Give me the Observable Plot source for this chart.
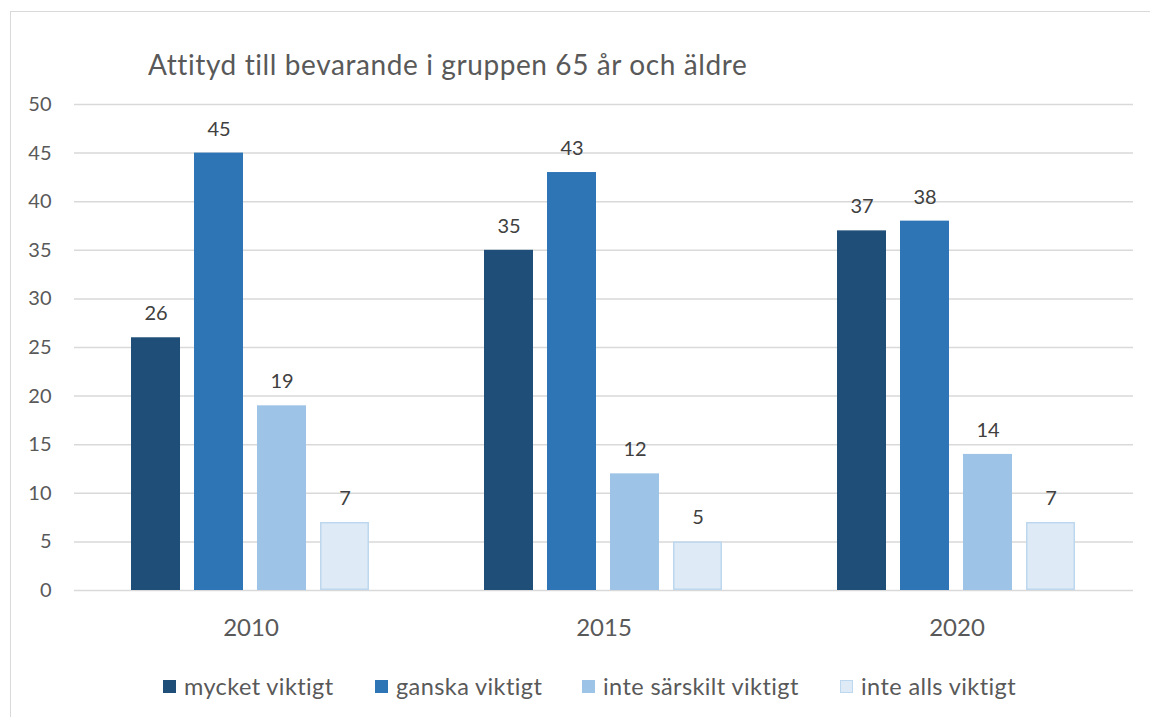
<!DOCTYPE html>
<html>
<head>
<meta charset="utf-8">
<script src="https://cdn.jsdelivr.net/npm/d3@7"></script>
<script src="https://cdn.jsdelivr.net/npm/@observablehq/plot@0.6"></script>
<style>
  body { margin: 0; background: #fff; font-family: Lato, "Noto Sans", sans-serif; }
  #wrap { position: relative; width: 1150px; height: 717px; overflow: hidden; }
  #frame { position: absolute; left: 10px; top: 11px; width: 1160px; height: 720px; border-left: 1.5px solid #D9D9D9; border-top: 1.5px solid #D9D9D9; box-sizing: border-box; }
  #title { position: absolute; left: 148px; top: 47px; font-size: 28px; letter-spacing: 0.6px; line-height: 34px; color: #595959; white-space: nowrap; }
  #chart { position: absolute; left: 0; top: 80px; }
  .leg { position: absolute; top: 672px; height: 28px; font-size: 23.5px; letter-spacing: 0.4px; color: #595959; white-space: nowrap; display: flex; align-items: center; }
  .sw { width: 13px; height: 13px; margin-right: 8px; box-sizing: border-box; }
</style>
</head>
<body>
<div id="wrap">
  <div id="frame"></div>
  <div id="title">Attityd till bevarande i gruppen 65 år och äldre</div>
  <div id="chart"></div>
  <div id="legend"></div>
</div>
<script>
const years = ["2010", "2015", "2020"];
const categories = ["mycket viktigt", "ganska viktigt", "inte särskilt viktigt", "inte alls viktigt"];
const mycket = [26, 35, 37];
const ganska = [45, 43, 38];
const inteSarskilt = [19, 12, 14];
const inteAlls = [7, 5, 7];
const yTicks = [0, 5, 10, 15, 20, 25, 30, 35, 40, 45, 50];
const colors = ["#1F4E79", "#2E75B6", "#9DC3E6", "#DEEBF7"];
const strokes = ["#1F4E79", "#2E75B6", "#9DC3E6", "#BDD7EE"];
const legendX = [163, 375, 582, 840];

const series = [mycket, ganska, inteSarskilt, inteAlls];
const data = [];
years.forEach((yr, i) => {
  categories.forEach((c, j) => data.push({year: yr, cat: c, value: series[j][i]}));
});

const W = 1150, H = 570;
const chart = Plot.plot({
  width: W,
  height: H,
  marginLeft: 74,
  marginRight: 17,
  marginTop: 24,
  marginBottom: 60,
  style: {fontFamily: "Lato, 'Noto Sans', sans-serif", background: "transparent"},
  fx: {domain: years, padding: 0, label: null},
  x: {domain: categories, paddingInner: 0.22, paddingOuter: 0.868, axis: null},
  y: {domain: [0, 50], ticks: yTicks, label: null},
  color: {domain: categories, range: colors},
  marks: [
    Plot.ruleY(yTicks, {stroke: "#D9D9D9", strokeWidth: 1.5}),
    Plot.barY(data, {fx: "year", x: "cat", y: "value", fill: "cat",
      stroke: d => strokes[categories.indexOf(d.cat)], strokeWidth: 1.5, inset: 0.75}),
    Plot.text(data, {fx: "year", x: "cat", y: "value", text: d => String(d.value),
      dy: -24, fontSize: 20, fill: "#404040"}),
    Plot.axisY({ticks: yTicks, tickSize: 0, tickPadding: 23, fontSize: 20, color: "#595959", label: null}),
    Plot.axisFx({anchor: "bottom", tickSize: 0, tickPadding: 28, fontSize: 24, color: "#595959", label: null})
  ]
});
document.getElementById("chart").appendChild(chart);

const leg = document.getElementById("legend");
categories.forEach((c, j) => {
  const item = document.createElement("div");
  item.className = "leg";
  item.style.left = legendX[j] + "px";
  const sw = document.createElement("div");
  sw.className = "sw";
  sw.style.background = colors[j];
  sw.style.border = j === 3 ? "1.5px solid #BDD7EE" : "none";
  item.appendChild(sw);
  const t = document.createElement("span");
  t.textContent = c;
  item.appendChild(t);
  leg.appendChild(item);
});
</script>
</body>
</html>
